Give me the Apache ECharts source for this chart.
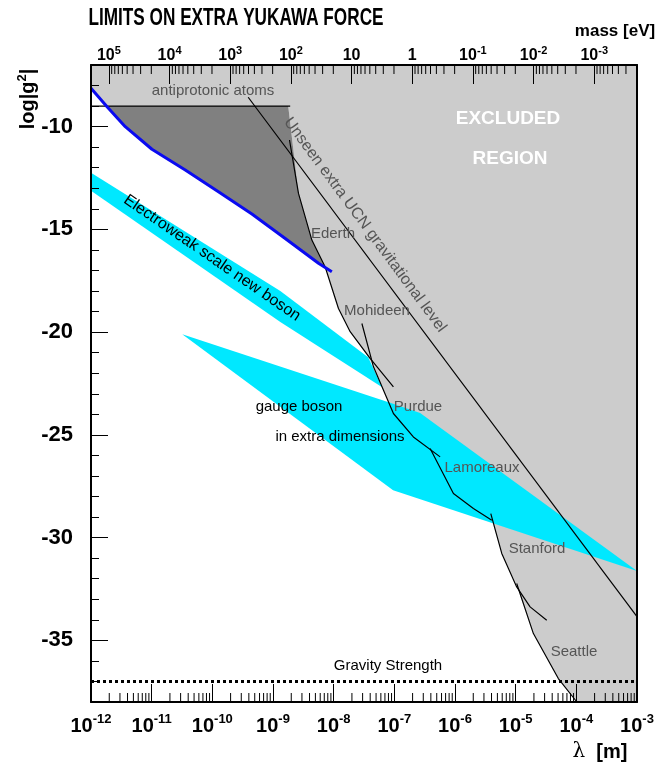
<!DOCTYPE html>
<html>
<head>
<meta charset="utf-8">
<script src="https://cdn.jsdelivr.net/npm/echarts@6/dist/echarts.min.js"></script>
<style>
html, body { margin: 0; padding: 0; background: #fff; }
#chart { width: 671px; height: 769px; }
</style>
</head>
<body>
<div id="chart"></div>
<script>
var HBARC = 1.973e-7; // eV*m, mass = hbar*c / lambda
var xMin = 1e-12, xMax = 1e-3, yMin = -38, yMax = -7;

// lower-left edge of the excluded region, top to bottom  [lambda (m), log|g^2|]
var excludedEdge = [
  [1.78e-9, -9.0], [2.63e-9, -13.25], [4.37e-9, -15.52], [7.25e-9, -16.83],
  [1.2e-8, -18.85], [1.87e-8, -19.98], [3.7e-8, -21.22], [4.53e-8, -21.69],
  [9.66e-8, -23.96], [2.06e-7, -25.10], [3.89e-7, -25.70], [9.42e-7, -27.85],
  [2.01e-6, -28.58], [3.8e-6, -28.86], [5.9e-6, -30.77], [1.04e-5, -32.32],
  [1.96e-5, -34.67], [5.05e-5, -36.86], [1.02e-4, -38.0]
];
var blueLimit = [
  [1.0e-12, -8.13], [1.84e-12, -9.03], [3.67e-12, -10.0], [1.01e-11, -11.10],
  [3.58e-11, -12.11], [1.26e-10, -13.17], [4.49e-10, -14.25], [1.59e-9, -15.44],
  [5.62e-9, -16.65], [9.33e-9, -17.06]
];
var antiprotonic = [[1e-12, -9.0], [1.92e-9, -9.0]];
var ucnLevel = [[3.9e-10, -8.57], [1e-3, -33.85]];
var ederth = [[1.87e-9, -10.65], [2.63e-9, -13.25], [4.37e-9, -15.52], [7.25e-9, -16.83],
  [1.2e-8, -18.85], [1.87e-8, -19.98], [3.99e-8, -21.28], [9.66e-8, -22.66]];
var mohideen = [[2.92e-8, -19.58], [4.53e-8, -21.69], [9.66e-8, -23.96], [2.06e-7, -25.10], [5.69e-7, -26.07]];
var lamoreaux = [[3.89e-7, -25.66], [9.42e-7, -27.85], [2.01e-6, -28.58], [4.04e-6, -29.15]];
var stanford = [[3.89e-6, -28.83], [5.9e-6, -30.77], [1.04e-5, -32.40], [1.73e-5, -33.37], [3.25e-5, -34.02]];
var seattle = [[1.04e-5, -32.23], [1.96e-5, -34.67], [5.05e-5, -36.86], [1.02e-4, -38.0]];
var gravity = [[1e-12, -37], [1e-3, -37]];

var electroweakBand = [[1e-12, -12.24], [1.32e-9, -18.0], [3.7e-8, -21.22], [6.3e-8, -22.68],
  [1.32e-9, -19.51], [1e-12, -13.12]];
var gaugeBand = [[3.19e-11, -20.10], [8.53e-8, -23.44], [2.66e-7, -23.94], [1e-3, -31.63], [9.55e-8, -27.69]];

// minor ticks: lambda 2..9 x 10^k (bottom), mass 2..9 x 10^k (top)
var lambdaMinor = [], massMinor = [];
for (var k = -12; k < -3; k++) for (var j = 2; j < 10; j++) lambdaMinor.push(j * Math.pow(10, k));
for (var k2 = -4; k2 < 6; k2++) for (var j2 = 2; j2 < 10; j2++) {
  var lam = HBARC / (j2 * Math.pow(10, k2));
  if (lam > xMin && lam < xMax) massMinor.push(lam);
}

var excludedPoly = [[xMin, yMax], [xMax, yMax], [xMax, yMin]]
  .concat(excludedEdge.slice().reverse(), [[blueLimit[1][0], -9.0], blueLimit[0]]);
var darkPoly = [[blueLimit[1][0], -9.0]]
  .concat(excludedEdge.slice(0, 4), blueLimit.slice(1, 9).reverse());

var FONT = 'Liberation Sans, Arial, Helvetica, sans-serif';

function polygon(pts, color, z) {
  return {
    type: 'custom', z: z, silent: true, clip: true,
    data: [pts[0]],
    renderItem: function (params, api) {
      return {
        type: 'polygon',
        shape: { points: pts.map(function (p) { return api.coord(p); }) },
        style: { fill: color }
      };
    }
  };
}
function curve(pts, color, width, z, dash) {
  return {
    type: 'line', data: pts, z: z, silent: true, showSymbol: false, symbol: 'none',
    lineStyle: { color: color, width: width, type: dash || 'solid' }
  };
}
function minorTicks(list, onTop) {
  return {
    type: 'custom', z: 12, silent: true, clip: false,
    data: list.map(function (v) { return [v, -20]; }),
    renderItem: function (params, api) {
      var x = api.coord([api.value(0), yMin])[0];
      var y = onTop ? api.coord([xMin, yMax])[1] : api.coord([xMin, yMin])[1];
      return {
        type: 'line',
        shape: { x1: x, y1: y, x2: x, y2: onTop ? y + 9 : y - 9 },
        style: { stroke: '#000', lineWidth: 1 }
      };
    }
  };
}
function powLabel(v) {
  var e = Math.log10(v), n = Math.round(e);
  if (Math.abs(e - n) > 1e-6) return '';
  return '{b|10}{s|' + n + '}';
}
function massLabel(v) {
  var e = Math.log10(v), n = Math.round(e);
  if (Math.abs(e - n) > 1e-6) return '';
  if (n === 0) return '{b|1}';
  if (n === 1) return '{b|10}';
  return '{b|10}{s|' + n + '}';
}
// superscript: both pieces sit on the line bottom, the small one lifted by bottom padding
function supRich(big, small, lift) {
  return {
    b: { fontFamily: FONT, fontWeight: 'bold', fontSize: big, color: '#000', verticalAlign: 'bottom' },
    s: { fontFamily: FONT, fontWeight: 'bold', fontSize: small, color: '#000', verticalAlign: 'bottom', padding: [0, 0, lift, 0] }
  };
}
var frameLine = { onZero: false, lineStyle: { color: '#000', width: 2 } };

function label(text, x, y, opts) {
  opts = opts || {};
  return {
    type: 'text', x: x, y: y, rotation: opts.rotation || 0, scaleX: opts.scaleX || 1, z: 20, silent: true,
    style: {
      text: text, fill: opts.color || '#555', align: 'center', verticalAlign: 'middle',
      font: (opts.bold ? 'bold ' : '') + (opts.size || 15) + 'px ' + FONT,
      rich: opts.rich
    }
  };
}

var option = {
  animation: false,
  backgroundColor: '#fff',
  grid: { left: 91, right: 34, top: 65, bottom: 67, containLabel: false, outerBoundsMode: 'none' },
  xAxis: [{
    type: 'log', logBase: 10, min: xMin, max: xMax, position: 'bottom', z: 10,
    axisLine: frameLine,
    axisTick: { inside: true, length: 18, lineStyle: { color: '#000', width: 1 } },
    axisLabel: { margin: 11, formatter: powLabel, rich: supRich(20, 13, 10) },
    splitLine: { show: false }
  }, {
    type: 'log', logBase: 10, min: HBARC / xMax, max: HBARC / xMin, inverse: true, position: 'top', z: 10,
    axisLine: frameLine,
    axisTick: { inside: true, length: 19, lineStyle: { color: '#000', width: 1 } },
    axisLabel: { margin: 1, formatter: massLabel, rich: supRich(16, 11, 8) },
    splitLine: { show: false }
  }],
  yAxis: [{
    type: 'value', min: yMin, max: yMax, position: 'left', z: 10,
    axisLine: frameLine,
    axisTick: { inside: true, length: 17, lineStyle: { color: '#000', width: 1 } },
    axisLabel: {
      margin: 18, color: '#000', fontFamily: FONT, fontWeight: 'bold', fontSize: 22,
      formatter: function (v) { return v % 5 === 0 ? String(v) : ''; }
    },
    splitLine: { show: false }
  }, {
    type: 'value', min: yMin, max: yMax, interval: 1, position: 'left', z: 10,
    axisLine: { show: false },
    axisTick: { inside: true, length: 8, lineStyle: { color: '#000', width: 1 } },
    axisLabel: { show: false },
    splitLine: { show: false }
  }, {
    type: 'value', min: yMin, max: yMax, position: 'right', z: 10,
    axisLine: frameLine, axisTick: { show: false }, axisLabel: { show: false }, splitLine: { show: false }
  }],
  series: [
    polygon(excludedPoly, '#cccccc', 1),
    polygon(darkPoly, '#808080', 1),
    polygon(electroweakBand, '#00e8ff', 2),
    polygon(gaugeBand, '#00e8ff', 2),
    curve(antiprotonic, '#000', 1.2, 3),
    curve(ucnLevel, '#000', 1.2, 3),
    curve(ederth, '#000', 1.2, 3),
    curve(mohideen, '#000', 1.2, 3),
    curve(lamoreaux, '#000', 1.2, 3),
    curve(stanford, '#000', 1.2, 3),
    curve(seattle, '#000', 1.2, 3),
    curve(gravity, '#000', 3, 3, [3, 3]),
    curve(blueLimit, '#0a0af0', 3, 4),
    minorTicks(lambdaMinor, false),
    minorTicks(massMinor, true)
  ],
  graphic: [
    label('LIMITS ON EXTRA YUKAWA FORCE', 236, 18, { bold: true, size: 24, color: '#000', scaleX: 0.716 }),
    label('mass [eV]', 615, 31, { bold: true, size: 17, color: '#000' }),
    label('{l|λ}{m|  [m]}', 600, 752, { color: '#000', rich: {
      l: { fontFamily: 'DejaVu Serif, serif', fontSize: 20, color: '#000' },
      m: { fontFamily: FONT, fontWeight: 'bold', fontSize: 20, color: '#000' }
    } }),
    label('{a|log|g}{s|2}{a||}', 27, 99, { color: '#000', rotation: Math.PI / 2, rich: supRich(20, 13, 9) }),
    label('antiprotonic atoms', 213, 91),
    label('Unseen extra UCN gravitational level', 365, 225, { size: 16, rotation: -0.935 }),
    label('Ederth', 333, 234),
    label('Mohideen', 377, 311),
    label('Purdue', 418, 407),
    label('Lamoreaux', 482, 468),
    label('Stanford', 537, 549),
    label('Seattle', 574, 652),
    label('Electroweak scale new boson', 212, 258, { size: 16, color: '#000', rotation: -0.602 }),
    label('gauge boson', 299, 407, { color: '#000' }),
    label('in extra dimensions', 340, 437, { color: '#000' }),
    label('Gravity Strength', 388, 666, { color: '#000' }),
    label('EXCLUDED', 508, 119, { bold: true, size: 19, color: '#fff' }),
    label('REGION', 510, 159, { bold: true, size: 19, color: '#fff' })
  ]
};
// log|g2| label uses the 'a' style name
option.graphic[3].style.rich.a = option.graphic[3].style.rich.b;

var chart = echarts.init(document.getElementById('chart'));
chart.setOption(option);
</script>
</body>
</html>
